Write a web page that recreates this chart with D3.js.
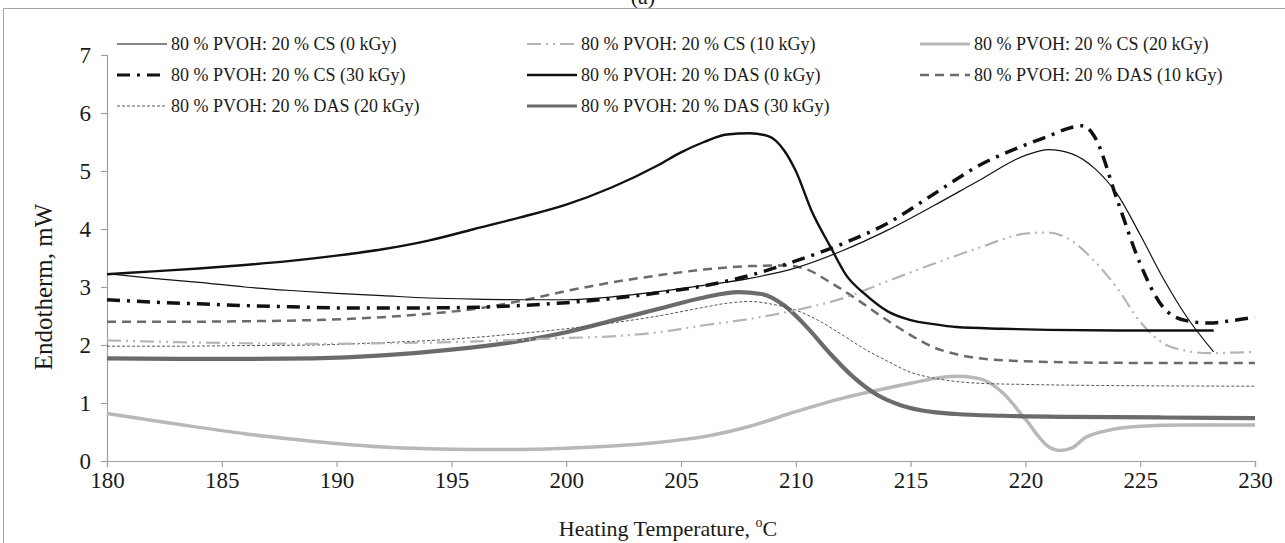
<!DOCTYPE html>
<html><head><meta charset="utf-8">
<script src="https://cdn.jsdelivr.net/npm/d3@7"></script>
<style>
body{margin:0;background:#fff}
svg{display:block}
text{font-family:"Liberation Serif","Times New Roman",serif;fill:#1a1a1a}
</style>
</head><body>
<svg id="c" width="1285" height="543"></svg>
<script>
// ---- data (temperature °C, endotherm mW) ----
const seriesLabels = [
  "80 % PVOH: 20 % CS (0 kGy)",
  "80 % PVOH: 20 % CS (10 kGy)",
  "80 % PVOH: 20 % CS (20 kGy)",
  "80 % PVOH: 20 % CS (30 kGy)",
  "80 % PVOH: 20 % DAS (0 kGy)",
  "80 % PVOH: 20 % DAS (10 kGy)",
  "80 % PVOH: 20 % DAS (20 kGy)",
  "80 % PVOH: 20 % DAS (30 kGy)"
];
const cs0 = [[180,3.23],[182,3.15],[184,3.08],[186,3.0],[188,2.94],[190,2.89],[192,2.85],[194,2.81],[196,2.79],[198,2.78],[200,2.78],[202,2.83],[204,2.92],[206,3.03],[208,3.15],[210,3.33],[212,3.62],[214,3.98],[216,4.4],[218,4.84],[220,5.27],[221,5.37],[222,5.3],[223,5.05],[224,4.6],[225,3.9],[226,3.15],[227,2.5],[228.2,1.88]];
const cs10 = [[180,2.08],[183,2.05],[186,2.03],[189,2.02],[192,2.03],[195,2.05],[198,2.09],[200,2.12],[202,2.15],[204,2.22],[206,2.34],[208,2.45],[210,2.6],[212,2.8],[214,3.1],[216,3.4],[218,3.68],[220,3.92],[221,3.94],[222,3.8],[223,3.45],[224,2.98],[225,2.4],[226,2.03],[227,1.9],[228,1.86],[229,1.87],[230,1.88]];
const cs20 = [[180,0.82],[182,0.7],[184,0.58],[186,0.47],[188,0.38],[190,0.3],[192,0.24],[194,0.21],[196,0.2],[198,0.2],[200,0.22],[202,0.26],[204,0.32],[206,0.42],[208,0.6],[210,0.85],[212,1.08],[214,1.26],[215,1.34],[216,1.42],[217,1.46],[218,1.42],[219,1.18],[220,0.72],[221,0.25],[221.5,0.18],[222,0.22],[222.6,0.4],[223.5,0.52],[225,0.6],[227,0.62],[230,0.62]];
const cs30 = [[180,2.78],[182,2.74],[184,2.71],[186,2.68],[188,2.66],[190,2.64],[192,2.64],[194,2.64],[196,2.65],[198,2.68],[200,2.73],[202,2.8],[204,2.9],[206,3.02],[208,3.2],[210,3.45],[212,3.74],[214,4.1],[216,4.6],[218,5.1],[220,5.45],[221,5.6],[222,5.75],[222.5,5.78],[223,5.6],[224,4.5],[225,3.4],[226,2.65],[227,2.42],[228,2.38],[229,2.42],[230,2.48]];
const das0 = [[180,3.22],[182,3.27],[184,3.32],[186,3.38],[188,3.45],[190,3.54],[192,3.65],[194,3.8],[196,4.0],[198,4.2],[200,4.42],[202,4.72],[204,5.1],[205,5.32],[206,5.5],[207,5.63],[208,5.65],[208.8,5.6],[209.5,5.35],[210,5.0],[210.7,4.3],[211.5,3.7],[212.2,3.2],[213,2.88],[214,2.58],[215,2.43],[216,2.36],[217,2.31],[219,2.28],[221,2.26],[224,2.25],[226,2.25],[228.2,2.25]];
const das10 = [[180,2.4],[183,2.4],[186,2.41],[189,2.43],[192,2.48],[194,2.54],[196,2.62],[198,2.76],[200,2.93],[202,3.08],[204,3.2],[206,3.3],[208,3.36],[209.5,3.37],[210.5,3.3],[211.5,3.08],[212.5,2.83],[213.7,2.5],[215,2.17],[216,1.96],[217,1.84],[218,1.77],[220,1.72],[222,1.7],[226,1.69],[230,1.69]];
const das20 = [[180,1.98],[183,1.98],[186,1.99],[189,2.0],[192,2.04],[195,2.1],[198,2.2],[200,2.28],[202,2.38],[204,2.5],[206,2.65],[207,2.72],[208,2.75],[209,2.7],[210,2.6],[211,2.42],[212,2.18],[213,1.93],[214,1.72],[215,1.53],[216,1.43],[217,1.37],[218,1.34],[220,1.32],[224,1.3],[230,1.29]];
const das30 = [[180,1.77],[183,1.76],[186,1.76],[189,1.77],[192,1.82],[195,1.92],[198,2.07],[200,2.22],[202,2.42],[204,2.62],[206,2.82],[207.5,2.91],[208.5,2.88],[209.5,2.68],[210.5,2.3],[211.5,1.85],[212.5,1.45],[213.5,1.15],[214.5,0.97],[215.5,0.87],[217,0.81],[219,0.78],[222,0.76],[226,0.75],[230,0.74]];
const xTicks = [180,185,190,195,200,205,210,215,220,225,230];
const yTicks = [0,1,2,3,4,5,6,7];

const seriesData = [cs0, cs10, cs20, cs30, das0, das10, das20, das30];
// styles (not data)
const styles = [
  {color:"#111", width:1.2, dash:null},
  {color:"#b5b5b5", width:2.2, dash:"14,5,2,5,2,5"},
  {color:"#b8b8b8", width:3.5, dash:null},
  {color:"#111", width:3.5, dash:"13,7,3,7"},
  {color:"#111", width:2.4, dash:null},
  {color:"#6b6b6b", width:2.5, dash:"9,6"},
  {color:"#555", width:1, dash:"3,2"},
  {color:"#6b6b6b", width:4.2, dash:null}
];
const drawOrder = [2,7,6,5,1,4,0,3];

const svg = d3.select("#c");
const x = d3.scaleLinear().domain([180,230]).range([107,1255]);
const y = d3.scaleLinear().domain([0,7]).range([461,55]);

// frame
svg.append("path").attr("d","M3.5,543V8.5H1285").attr("fill","none").attr("stroke","#a6a6a6").attr("stroke-width",1);
// title (partly cut at top, as in the reference)
svg.append("text").attr("x",643).attr("y",4).attr("text-anchor","middle").attr("font-size",22).text("(a)");

// axes
const gx = svg.append("g").attr("transform","translate(0,461)")
  .call(d3.axisBottom(x).tickValues(xTicks).tickSize(6).tickPadding(5).tickFormat(d3.format("d")));
const gy = svg.append("g").attr("transform","translate(107,0)")
  .call(d3.axisLeft(y).tickValues(yTicks).tickSize(6).tickPadding(10).tickFormat(d3.format("d")));
[gx,gy].forEach(g=>{
  g.selectAll("path,line").attr("stroke","#a0a0a0").attr("stroke-width",1.2);
  g.selectAll("text").attr("font-size",23).attr("font-family","'Liberation Serif',serif").attr("fill","#1a1a1a");
});

// axis titles
svg.append("text").attr("transform","translate(52,287) rotate(-90)").attr("text-anchor","middle")
  .attr("font-size",25).text("Endotherm, mW");
const xt = svg.append("text").attr("x",668).attr("y",536).attr("text-anchor","middle").attr("font-size",22);
xt.append("tspan").text("Heating Temperature, ");
xt.append("tspan").attr("font-size",14).attr("dy",-9).text("o");
xt.append("tspan").attr("dy",9).text("C");

// lines
const line = d3.line().x(d=>x(d[0])).y(d=>y(d[1])).curve(d3.curveMonotoneX);
drawOrder.forEach(i=>{
  const s = styles[i];
  svg.append("path").datum(seriesData[i]).attr("d",line)
    .attr("fill","none").attr("stroke",s.color).attr("stroke-width",s.width)
    .attr("stroke-dasharray",s.dash).attr("stroke-linejoin","round");
});

// legend
const colX = [117,527,920], rowY = [44,75,106];
seriesLabels.forEach((lab,i)=>{
  const cx = colX[i%3], cy = rowY[Math.floor(i/3)], s = styles[i];
  svg.append("line").attr("x1",cx).attr("x2",cx+50).attr("y1",cy).attr("y2",cy)
    .attr("stroke",s.color).attr("stroke-width",Math.min(s.width,3)).attr("stroke-dasharray",s.dash);
  svg.append("text").attr("x",cx+54).attr("y",cy+6).attr("font-size",18).text(lab);
});
</script>
</body></html>
